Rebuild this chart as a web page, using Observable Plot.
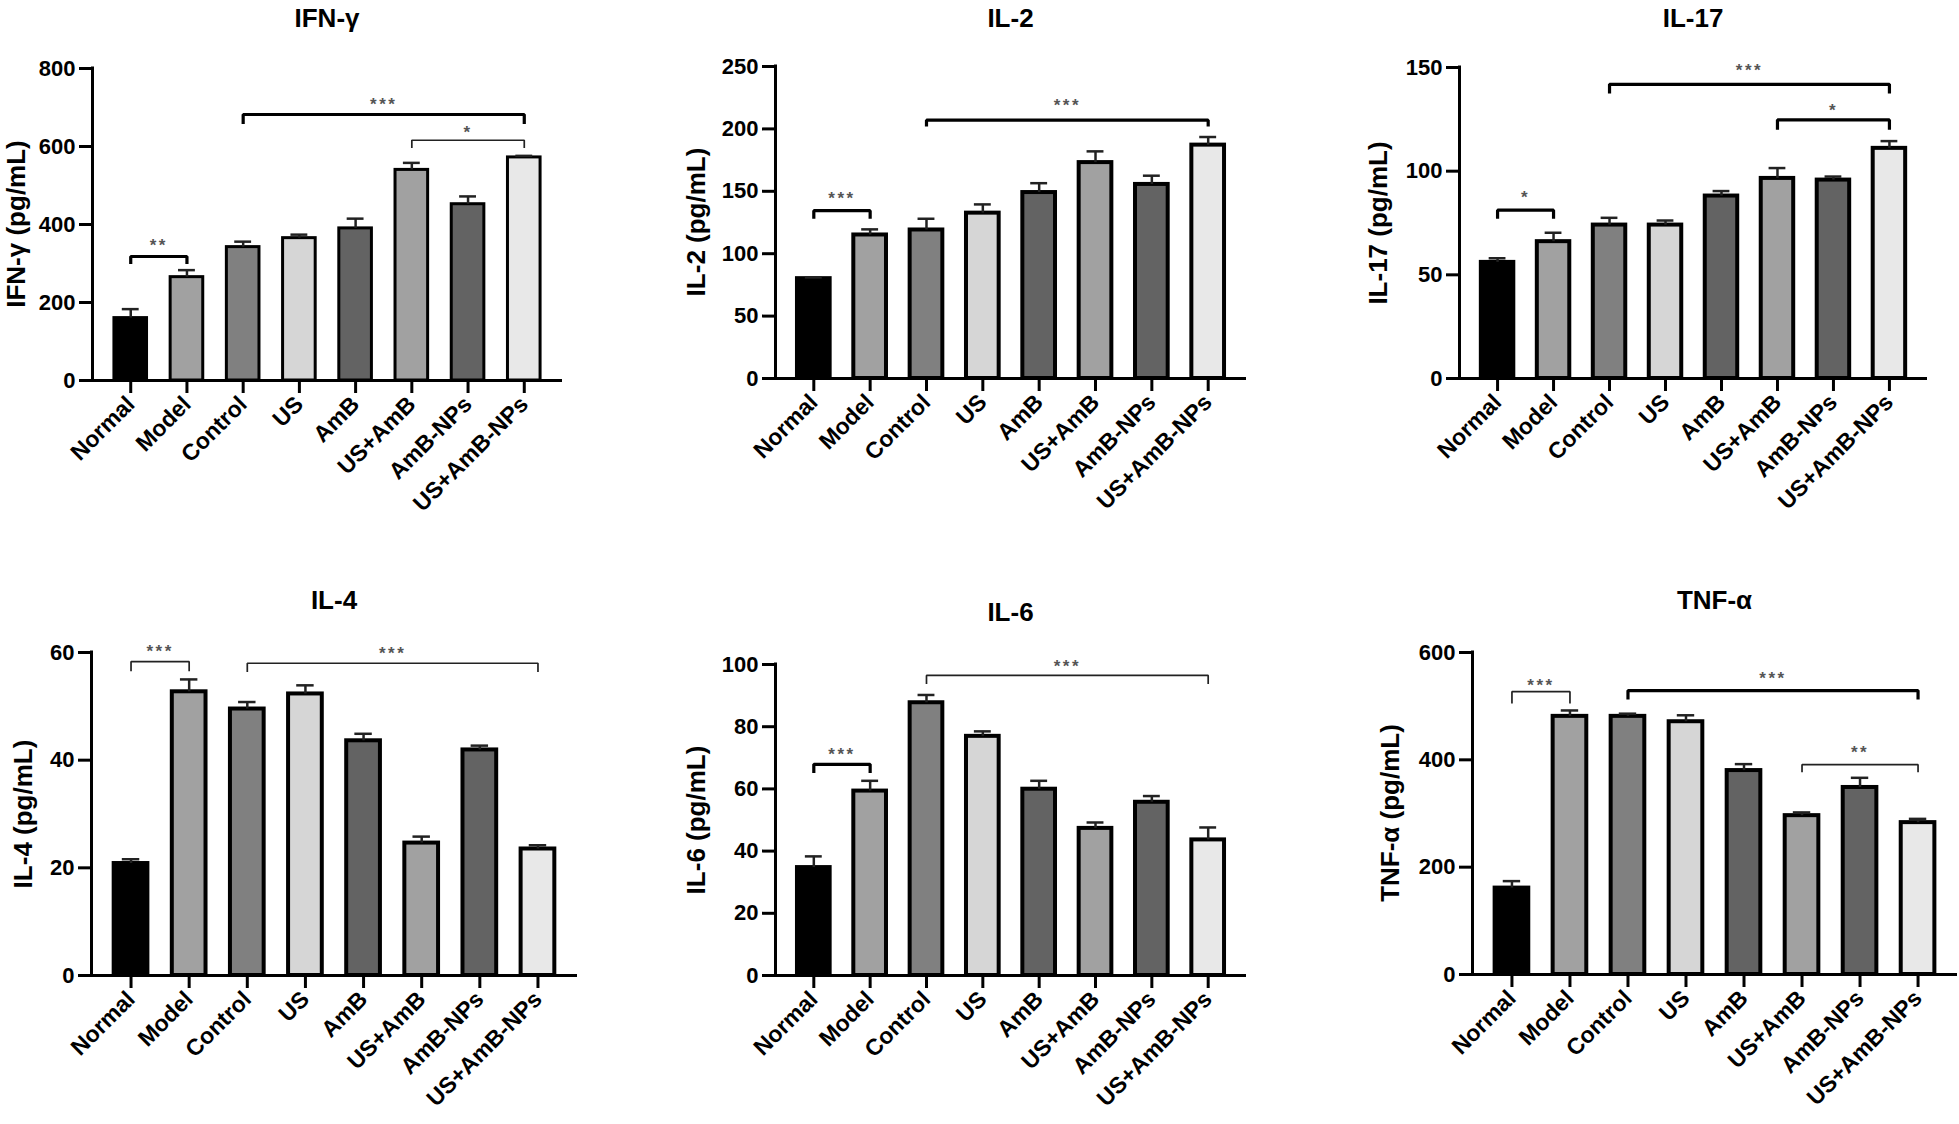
<!DOCTYPE html>
<html><head><meta charset="utf-8">
<script src="https://cdn.jsdelivr.net/npm/d3@7"></script>
<script src="https://cdn.jsdelivr.net/npm/@observablehq/plot@0.6"></script>
<style>
html,body{margin:0;padding:0;background:#fff;}
#root{position:relative;width:1959px;height:1124px;overflow:hidden;background:#fff;font-family:"Liberation Sans",Arial,sans-serif;}
.panel{position:absolute;}
.title{position:absolute;font-weight:bold;font-size:26px;line-height:26px;white-space:nowrap;transform:translateX(-50%);color:#000;}
.ylab{position:absolute;font-weight:bold;font-size:26px;line-height:26px;white-space:nowrap;transform:translate(-50%,-50%) rotate(-90deg);color:#000;}
</style></head><body><div id="root"></div>
<script>
// ---------- data ----------
const categories = ["Normal","Model","Control","US","AmB","US+AmB","AmB-NPs","US+AmB-NPs"];
const barFills   = ["#000000","#a1a1a1","#808080","#d6d6d6","#636363","#a1a1a1","#636363","#e8e8e8"];

const ifnTitle = "IFN-γ", ifnLabel = "IFN-γ (pg/mL)";
const ifnMean = [160, 265, 342, 365, 390, 540, 452, 572];
const ifnSem  = [23, 18, 14, 9, 25, 18, 20, 4];
const ifnTicks = [0, 200, 400, 600, 800];
// [from, to, bracket y, leg y, label y, label, weight]
const ifnSig = [[0,1,318,299,357,"**","thick"],[2,7,682,658,718,"***","thick"],[5,7,616,596,645,"*","thin"]];

const il2Title = "IL-2", il2Label = "IL-2 (pg/mL)";
const il2Mean = [80, 115, 119, 132.5, 149, 173, 155.5, 187];
const il2Sem  = [1, 4.5, 9, 7, 7.5, 9, 7, 6.5];
const il2Ticks = [0, 50, 100, 150, 200, 250];
const il2Sig = [[0,1,134.5,128,147,"***","thick"],[2,7,207,202,222,"***","thick"]];

const il17Title = "IL-17", il17Label = "IL-17 (pg/mL)";
const il17Mean = [56, 66, 74, 74, 88, 96.5, 95.7, 111];
const il17Sem  = [2, 4.3, 3.5, 2.2, 2.4, 5, 1.7, 3.5];
const il17Ticks = [0, 50, 100, 150];
const il17Sig = [[0,1,81.2,77,89,"*","thick"],[2,7,141.9,137.4,150.7,"***","thick"],[5,7,124.7,120,131,"*","thick"]];

const il4Title = "IL-4", il4Label = "IL-4  (pg/mL)";
const il4Mean = [20.8, 52.7, 49.5, 52.3, 43.6, 24.6, 41.9, 23.5];
const il4Sem  = [0.8, 2.3, 1.3, 1.6, 1.3, 1.2, 0.8, 0.7];
const il4Ticks = [0, 20, 40, 60];
const il4Sig = [[0,1,58.3,56.5,60.9,"***","thin"],[2,7,58,56.4,60.6,"***","thin"]];

const il6Title = "IL-6", il6Label = "IL-6 (pg/mL)";
const il6Mean = [34.7, 59.3, 87.7, 76.9, 59.9, 47.3, 55.7, 43.6];
const il6Sem  = [3.6, 3.3, 2.5, 1.6, 2.7, 1.9, 2, 4];
const il6Ticks = [0, 20, 40, 60, 80, 100];
const il6Sig = [[0,1,67.9,65.1,72.3,"***","thick"],[2,7,96.5,93.7,100.5,"***","thin"]];

const tnfTitle = "TNF-α", tnfLabel = "TNF-α  (pg/mL)";
const tnfMean = [161, 481, 481, 471, 380, 296, 348.5, 283];
const tnfSem  = [13, 11, 5, 12, 12, 6, 18, 7];
const tnfTicks = [0, 200, 400, 600];
const tnfSig = [[0,1,527,505,545,"***","thin"],[2,7,529,512.5,559,"***","thick"],[5,7,391,377,421,"**","thin"]];

// ---------- layout ----------
const xDomain = [-0.68, 7.68];
const barHalf = 0.29, capHalf = 0.15;
const FONT = '"Liberation Sans", Arial, sans-serif';

const panels = [
  {title: ifnTitle, label: ifnLabel, mean: ifnMean, sem: ifnSem, ticks: ifnTicks, sig: ifnSig,
   box: {x: 0, y: 0, w: 650, h: 560}, frame: {left: 92, right: 562, top: 68, bottom: 380}, barStroke: 3,
   titleTop: 5, labelX: 16},
  {title: il2Title, label: il2Label, mean: il2Mean, sem: il2Sem, ticks: il2Ticks, sig: il2Sig,
   box: {x: 650, y: 0, w: 690, h: 560}, frame: {left: 775, right: 1246, top: 66, bottom: 378}, barStroke: 4,
   titleTop: 5, labelX: 696},
  {title: il17Title, label: il17Label, mean: il17Mean, sem: il17Sem, ticks: il17Ticks, sig: il17Sig,
   box: {x: 1340, y: 0, w: 619, h: 560}, frame: {left: 1459, right: 1927, top: 67, bottom: 378}, barStroke: 4,
   titleTop: 5, labelX: 1378},
  {title: il4Title, label: il4Label, mean: il4Mean, sem: il4Sem, ticks: il4Ticks, sig: il4Sig,
   box: {x: 0, y: 560, w: 650, h: 564}, frame: {left: 91, right: 577, top: 652, bottom: 975}, barStroke: 4,
   titleTop: 587, labelX: 23},
  {title: il6Title, label: il6Label, mean: il6Mean, sem: il6Sem, ticks: il6Ticks, sig: il6Sig,
   box: {x: 650, y: 560, w: 690, h: 564}, frame: {left: 775, right: 1246, top: 664, bottom: 975}, barStroke: 4,
   titleTop: 599, labelX: 696},
  {title: tnfTitle, label: tnfLabel, mean: tnfMean, sem: tnfSem, ticks: tnfTicks, sig: tnfSig,
   box: {x: 1340, y: 560, w: 619, h: 564}, frame: {left: 1472, right: 1957, top: 652, bottom: 974}, barStroke: 4,
   titleTop: 587, labelX: 1390}
];

const root = document.getElementById("root");

function drawPanel(p) {
  const {box, frame} = p;
  const yMax = p.ticks[p.ticks.length - 1];
  const data = categories.map((c, i) => ({i, cat: c, mean: p.mean[i], sem: p.sem[i]}));
  const br = p.sig.map(([from, to, y, leg, star, label, weight]) => ({from, to, y, leg, star, label, weight}));
  const pts = br.flatMap((b, k) => [
    {k, x: b.from, y: b.leg, w: b.weight}, {k, x: b.from, y: b.y, w: b.weight},
    {k, x: b.to, y: b.y, w: b.weight}, {k, x: b.to, y: b.leg, w: b.weight}
  ]);
  const chart = Plot.plot({
    width: box.w, height: box.h,
    marginLeft: frame.left - box.x, marginRight: box.x + box.w - frame.right,
    marginTop: frame.top - box.y, marginBottom: box.y + box.h - frame.bottom,
    x: {type: "linear", domain: xDomain},
    y: {domain: [0, yMax]},
    color: {domain: categories, range: barFills},
    style: {fontFamily: FONT, fontSize: "22px", fontWeight: "bold", color: "#000", background: "transparent", overflow: "visible"},
    marks: [
      Plot.rect(data, {x1: d => d.i - barHalf, x2: d => d.i + barHalf, y1: 0, y2: "mean", fill: "cat", stroke: "#000", strokeWidth: p.barStroke}),
      Plot.ruleX(data, {x: "i", y1: "mean", y2: d => d.mean + d.sem, stroke: "#222", strokeWidth: 2.5}),
      Plot.ruleY(data, {y: d => d.mean + d.sem, x1: d => d.i - capHalf, x2: d => d.i + capHalf, stroke: "#222", strokeWidth: 2.5}),
      Plot.line(pts.filter(d => d.w === "thick"), {x: "x", y: "y", z: "k", stroke: "#000", strokeWidth: 3.2, strokeLinejoin: "miter", strokeLinecap: "butt"}),
      Plot.line(pts.filter(d => d.w === "thin"), {x: "x", y: "y", z: "k", stroke: "#222", strokeWidth: 1.7, strokeLinejoin: "miter", strokeLinecap: "butt"}),
      Plot.text(br, {x: d => (d.from + d.to) / 2, y: "star", text: "label", fontSize: 17, fontWeight: "bold", fill: "#555", lineAnchor: "middle", dy: 4}),
      Plot.ruleY([0], {stroke: "#000", strokeWidth: 3}),
      Plot.ruleX([xDomain[0]], {y1: 0, y2: yMax, stroke: "#000", strokeWidth: 3, strokeLinecap: "square"}),
      Plot.axisY({ticks: p.ticks, tickSize: 13, tickPadding: 4, strokeWidth: 3, label: null, fontSize: 22}),
      Plot.axisX({ticks: d3.range(categories.length), tickFormat: i => categories[i], tickRotate: -45, tickSize: 13, tickPadding: 7, strokeWidth: 3, label: null, fontSize: 23})
    ]
  });
  d3.select(chart).selectAll("text").filter(function () { return /^\*+$/.test(this.textContent); }).style("letter-spacing", "2.5px");
  chart.classList.add("panel");
  chart.style.left = box.x + "px";
  chart.style.top = box.y + "px";
  root.appendChild(chart);

  const t = document.createElement("div");
  t.className = "title";
  t.textContent = p.title;
  t.style.left = ((frame.left + frame.right) / 2) + "px";
  t.style.top = p.titleTop + "px";
  root.appendChild(t);

  const yl = document.createElement("div");
  yl.className = "ylab";
  yl.textContent = p.label;
  yl.style.left = p.labelX + "px";
  yl.style.top = ((frame.top + frame.bottom) / 2) + "px";
  root.appendChild(yl);
}

panels.forEach(drawPanel);
</script></body></html>
